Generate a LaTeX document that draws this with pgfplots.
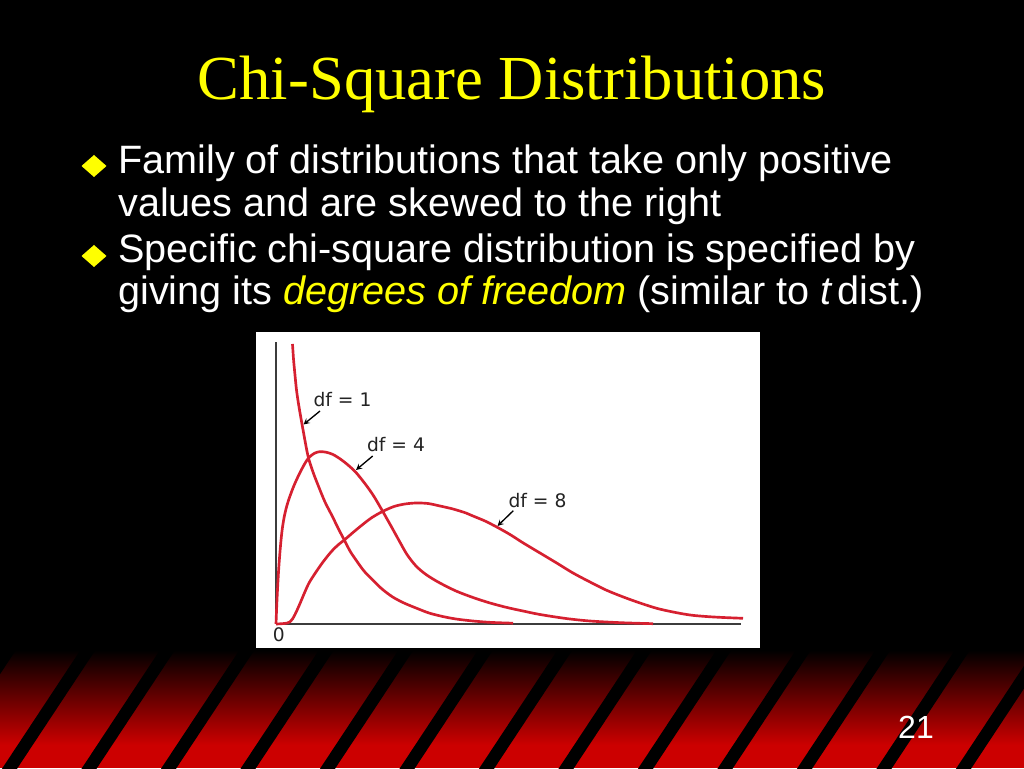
\documentclass[border=0pt]{standalone}
\usepackage{pgfplots}
\pgfplotsset{compat=1.18}
\usepackage{fontspec}
\setmainfont{Liberation Sans}
\newfontfamily\titlefont{Liberation Serif}
\newfontfamily\labfont{DejaVu Sans}

\definecolor{slideyellow}{RGB}{255,255,0}
\definecolor{curvered}{RGB}{214,32,48}
\definecolor{bandred}{RGB}{204,0,0}
\definecolor{axisgray}{RGB}{60,60,60}
\definecolor{labgray}{RGB}{35,35,35}

\begin{document}
\begin{tikzpicture}[x=0.75pt,y=0.75pt]
\useasboundingbox (0,0) rectangle (1024,768);
\fill[black] (0,0) rectangle (1024,768);

% bottom band with diagonal stripes
\begin{scope}
  \clip (0,0) rectangle (1024,118);
  \fill[bandred] (0,0) rectangle (1024,24);
  \shade[top color=black, bottom color=bandred] (0,23) rectangle (1024,118);
  \foreach \n in {-2,...,13} {
    \draw[black, line width=9.4pt] ({3.4+79.5*\n},-10) -- ({95.9+79.5*\n},130);
  }
\end{scope}
\node[anchor=base, inner sep=0, white, font=\fontsize{24pt}{28pt}\selectfont] at (916,30) {21};

% title
\node[anchor=base, inner sep=0, text=slideyellow, font=\titlefont\fontsize{47pt}{52pt}\selectfont] at (512,668) {Chi-Square Distributions};

% bullets
\foreach \yy in {602,512} {
  \fill[slideyellow] (81.5,\yy) -- (94,\yy+11) -- (106.5,\yy) -- (94,\yy-11) -- cycle;
}
\begin{scope}[every node/.style={anchor=base west, inner sep=0, white, font=\fontsize{29.7pt}{34pt}\selectfont}]
  \node at (118,594) {Family of distributions that take only positive};
  \node at (118,551) {values and are skewed to the right};
  \node at (118,505) {Specific chi-square distribution is specified by};
  \node at (118,463) {giving its \textcolor{slideyellow}{\itshape degrees of freedom} (similar to {\itshape t}\,dist.)};
\end{scope}

% chart panel
\fill[white] (256,120) rectangle (760,436);

\begin{axis}[
  at={(207pt,108pt)}, anchor=south west,
  scale only axis, width=348.75pt, height=211.5pt,
  xmin=0, xmax=465, ymin=0, ymax=282,
  axis lines=left,
  axis line style={-, draw=axisgray, line width=1.5pt},
  xtick=\empty, ytick=\empty,
  clip=false,
]
% df = 1
\addplot[curvered, line width=2pt, smooth, tension=0.5, no markers] coordinates {
  (16.5,280) (17.5,265) (18.7,252) (20.5,234) (22.7,219) (26.7,196) (32,168)
  (37,152) (42,139) (49,122) (56.7,107) (62,96) (68.3,84) (74,73) (80,64)
  (88,53) (96.7,44) (106,35) (116.7,27) (128,21) (140,16) (153,11)
  (166.7,7.5) (180,5) (197,3) (215,1.6) (237,0.8)
};
% df = 4
\addplot[curvered, line width=2pt, smooth, tension=0.5, no markers] coordinates {
  (0,0) (0.8,20) (1.8,40) (2.9,58) (4.3,76) (6,93) (8,106) (10.5,117)
  (13.3,126) (17,136) (20,143) (23.3,150) (28,159) (32.5,166) (38,170.5)
  (43.5,172.3) (50,171.8) (57,169.5) (65,164.5) (72,159) (80,151.5) (90,139)
  (98,127.5) (106.5,113) (115,98) (123.3,83) (131,69.5) (140,58) (150,49.5)
  (163,41.5) (180,33) (197,26.5) (214,21) (231,16.5) (247,13) (264,9.5)
  (290,5.5) (314,3) (345,1.3) (377,0.3)
};
% df = 8
\addplot[curvered, line width=2pt, smooth, tension=0.5, no markers] coordinates {
  (0,0) (6,0.3) (11,0.9) (14,2.2) (16.5,5) (19,9.5) (21.5,14.8) (24,20.5)
  (28,30) (33,41) (40,52) (47,62) (55,72) (62,79) (68.3,84) (77,91.5)
  (86.7,99.5) (96,106.5) (106.5,112.5) (118,117.5) (129,120) (140,121)
  (152,120.5) (164,118) (177,115) (190,111) (197,108) (209,103) (220.7,97)
  (234,89.5) (247.3,81) (264,71) (280.7,61) (297,51) (314,42) (330,34)
  (347.3,27) (364,21) (380.7,15.7) (397,12) (414,9) (430,7.5) (447.3,6.5)
  (467,5.7)
};

\begin{scope}[every node/.style={inner sep=0, text=labgray, font=\labfont\fontsize{14pt}{14pt}\selectfont}]
  \node at (axis cs:66.5,224) {df = 1};
  \node at (axis cs:120,179) {df = 4};
  \node at (axis cs:261.5,123.5) {df = 8};
  \node at (axis cs:2.7,-11) {0};
\end{scope}
\draw[-stealth, black, line width=1pt] (axis cs:44,213) -- (axis cs:27.5,199.5);
\draw[-stealth, black, line width=1pt] (axis cs:96.7,168) -- (axis cs:80,154);
\draw[-stealth, black, line width=1pt] (axis cs:237.3,113.3) -- (axis cs:221.5,98);
\end{axis}
\end{tikzpicture}
\end{document}
